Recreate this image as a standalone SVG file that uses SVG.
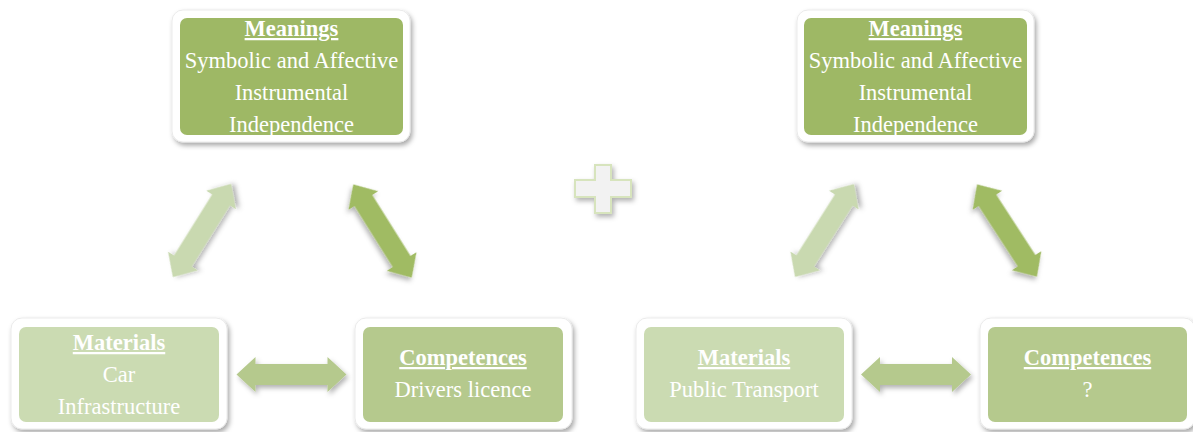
<svg xmlns="http://www.w3.org/2000/svg" width="1193" height="432" viewBox="0 0 1193 432">
  <defs>
    <filter id="shadow" x="-20%" y="-20%" width="140%" height="150%">
      <feDropShadow dx="2" dy="3" stdDeviation="2.5" flood-color="#000" flood-opacity="0.35"/>
    </filter>
    <filter id="arrowShadow" x="-30%" y="-30%" width="160%" height="160%">
      <feDropShadow dx="2" dy="3" stdDeviation="2.5" flood-color="#000" flood-opacity="0.3"/>
    </filter>
    <!-- double-headed block arrow, centred on the origin, pointing along x -->
    <path id="dblArrow" d="M-55,0 L-36,-17.5 L-36,-10.5 L36,-10.5 L36,-17.5 L55,0 L36,17.5 L36,10.5 L-36,10.5 L-36,17.5 Z"/>
    <style>
      .frame { fill: #ffffff; stroke: #e6e6e6; stroke-width: 0.8; filter: url(#shadow); }
      .meaning { fill: #9eb865; }
      .competence { fill: #b5c98d; }
      .material { fill: #cbdbb2; }
      .label { font-family: "Liberation Serif", "Times New Roman", serif; font-size: 22.5px; fill: #ffffff; text-anchor: middle; }
      .title { font-weight: bold; text-decoration: underline; }
      .arrowLight { fill: #c9d9b0; filter: url(#arrowShadow); }
      .arrowDark { fill: #a0bb63; filter: url(#arrowShadow); }
      .arrowMid { fill: #b5c98d; filter: url(#arrowShadow); }
    </style>
  </defs>

  <!-- connectors -->
  <g id="connectors">
    <use href="#dblArrow" class="arrowLight" transform="translate(202,230.5) rotate(-58)"/>
    <use href="#dblArrow" class="arrowDark" transform="translate(382.5,231) rotate(57.9)"/>
    <use href="#dblArrow" class="arrowMid" transform="translate(291.5,374.5)"/>
    <use href="#dblArrow" class="arrowLight" transform="translate(824.5,230.5) rotate(-57.6)"/>
    <use href="#dblArrow" class="arrowDark" transform="translate(1007,230.5) rotate(57)"/>
    <use href="#dblArrow" class="arrowMid" transform="translate(916,374.5)"/>
  </g>

  <!-- plus sign between the two triangles -->
  <g id="plus">
    <path d="M595,165 H611 V180 H631 V197 H611 V213 H595 V197 H575 V180 H595 Z" fill="#f2f2f2" stroke="#d7e4bd" stroke-width="2" filter="url(#arrowShadow)"/>
  </g>

  <!-- left triangle: car -->
  <g id="meanings-car">
    <rect class="frame" x="172" y="10" width="238" height="132" rx="11"/>
    <rect class="meaning" x="180" y="18" width="223" height="117" rx="7"/>
    <text class="label title" x="291.5" y="36">Meanings</text>
    <text class="label" x="291.5" y="68">Symbolic and Affective</text>
    <text class="label" x="291.5" y="100">Instrumental</text>
    <text class="label" x="291.5" y="132">Independence</text>
  </g>

  <g id="materials-car">
    <rect class="frame" x="11" y="318" width="216" height="111" rx="11"/>
    <rect class="material" x="19" y="327" width="200" height="95" rx="7"/>
    <text class="label title" x="119" y="350">Materials</text>
    <text class="label" x="119" y="382">Car</text>
    <text class="label" x="119" y="414">Infrastructure</text>
  </g>

  <g id="competences-car">
    <rect class="frame" x="355" y="318" width="217" height="111" rx="11"/>
    <rect class="competence" x="363" y="327" width="200" height="95" rx="7"/>
    <text class="label title" x="463" y="365">Competences</text>
    <text class="label" x="463" y="397">Drivers licence</text>
  </g>

  <!-- right triangle: public transport -->
  <g id="meanings-pt">
    <rect class="frame" x="797" y="10" width="237" height="132" rx="11"/>
    <rect class="meaning" x="804" y="18" width="223" height="117" rx="7"/>
    <text class="label title" x="915.5" y="36">Meanings</text>
    <text class="label" x="915.5" y="68">Symbolic and Affective</text>
    <text class="label" x="915.5" y="100">Instrumental</text>
    <text class="label" x="915.5" y="132">Independence</text>
  </g>

  <g id="materials-pt">
    <rect class="frame" x="636" y="318" width="216" height="111" rx="11"/>
    <rect class="material" x="644" y="327" width="200" height="95" rx="7"/>
    <text class="label title" x="744" y="365">Materials</text>
    <text class="label" x="744" y="397">Public Transport</text>
  </g>

  <g id="competences-pt">
    <rect class="frame" x="980" y="318" width="215" height="111" rx="11"/>
    <rect class="competence" x="988" y="327" width="199" height="95" rx="7"/>
    <text class="label title" x="1087.5" y="365">Competences</text>
    <text class="label" x="1087.5" y="397">?</text>
  </g>
</svg>
